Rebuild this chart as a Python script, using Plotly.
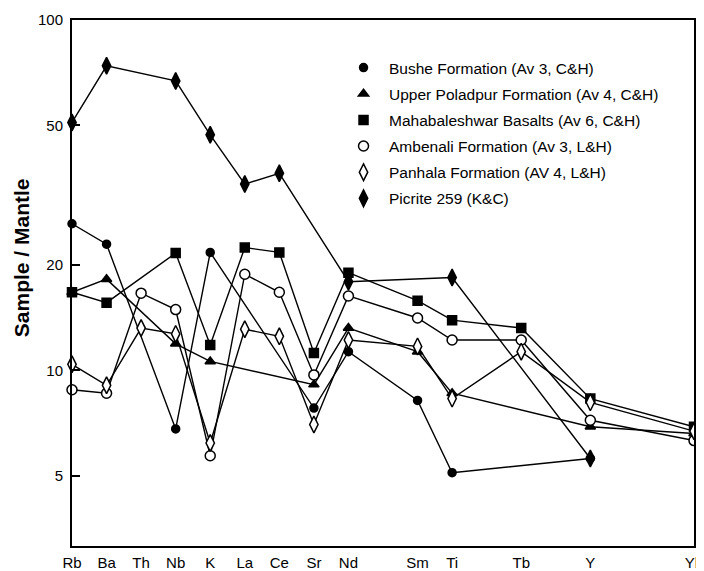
import math
import plotly.graph_objects as go

# ---------------- data ----------------
elements = ["Rb", "Ba", "Th", "Nb", "K", "La", "Ce", "Sr", "Nd", "Sm", "Ti", "Tb", "Y", "Yb"]
element_pos = [0, 1, 2, 3, 4, 5, 6, 7, 8, 10, 11, 13, 15, 18]

bushe = [26.2, 22.9, None, 6.8, 21.7, None, None, 7.8, 11.3, 8.2, 5.1, None, 5.6, None]
upper_poladpur = [16.7, 18.2, None, 11.9, 10.6, None, None, 9.1, 13.2, 11.3, 8.6, None, 6.9, 6.6]
mahabaleshwar = [16.7, 15.6, None, 21.6, 11.8, 22.4, 21.7, 11.2, 19.0, 15.8, 13.9, 13.2, 8.3, 6.9]
ambenali = [8.8, 8.6, 16.6, 14.9, 5.7, 18.8, 16.7, 9.7, 16.3, 14.1, 12.2, 12.2, 7.2, 6.3]
panhala = [10.4, 9.06, 13.2, 12.7, 6.2, 13.1, 12.5, 7.0, 12.2, 11.7, 8.3, 11.3, 8.1, 6.7]
picrite = [51, 74, None, 67, 47, 34, 36.5, None, 17.9, None, 18.4, None, 5.6, None]

y_ticks = [5, 10, 20, 50, 100]

series = [
    ("Bushe Formation (Av 3, C&H)", bushe, "circle", "black", 8),
    ("Upper Poladpur Formation (Av 4, C&H)", upper_poladpur, "triangle-up", "black", 9),
    ("Mahabaleshwar Basalts (Av 6, C&H)", mahabaleshwar, "square", "black", 9),
    ("Ambenali Formation (Av 3, L&H)", ambenali, "circle", "white", 10),
    ("Panhala Formation (AV 4, L&H)", panhala, "diamond-tall", "white", 12),
    ("Picrite 259 (K&C)", picrite, "diamond-tall", "black", 12),
]

FONT = "Liberation Sans, Arial, sans-serif"

fig = go.Figure()
# lines first
for name, vals, sym, fill, size in series:
    xs = [p for p, v in zip(element_pos, vals) if v is not None]
    ys = [v for v in vals if v is not None]
    fig.add_trace(go.Scatter(x=xs, y=ys, mode="lines", showlegend=False,
                             line=dict(color="black", width=1.4),
                             cliponaxis=False, hoverinfo="skip"))
# markers on top (also used for legend)
for i, (name, vals, sym, fill, size) in enumerate(series):
    xs = [p for p, v in zip(element_pos, vals) if v is not None]
    ys = [v for v in vals if v is not None]
    fig.add_trace(go.Scatter(x=xs, y=ys, mode="markers", name=name,
                             legendgroup=f"g{i}",
                             marker=dict(symbol=sym, size=size, color=fill,
                                         line=dict(color="black", width=1.5)),
                             cliponaxis=False))

# the page body has an 8px default margin; margins are set so the plot area
# lands where the reference has it inside the 704x571 window
fig.update_layout(
    width=704, height=563,
    margin=dict(l=64, r=18, t=12, b=25),
    paper_bgcolor="white", plot_bgcolor="white",
    font=dict(family=FONT, color="black", size=15),
    showlegend=True,
    legend=dict(x=0.4277, y=0.941, xanchor="left", yanchor="top",
                bgcolor="rgba(0,0,0,0)", borderwidth=0,
                font=dict(family=FONT, size=15.5, color="black"),
                tracegroupgap=3, itemwidth=41),
    xaxis=dict(range=[element_pos[0], element_pos[-1]], automargin=False,
               tickmode="array", tickvals=element_pos, ticktext=elements,
               showgrid=False, zeroline=False, ticks="",
               showline=True, mirror=True, linecolor="black", linewidth=2,
               tickfont=dict(size=15), ticklabelstandoff=2),
    yaxis=dict(type="log", range=[math.log10(3.15), 2], automargin=False,
               tickmode="array", tickvals=y_ticks, ticktext=[str(t) for t in y_ticks],
               showgrid=False, zeroline=False, ticks="inside", ticklen=8,
               tickwidth=2, tickcolor="black",
               showline=True, mirror=True, linecolor="black", linewidth=2,
               tickfont=dict(size=15), ticklabelstandoff=4),
    annotations=[dict(text="<b>Sample / Mantle</b>", textangle=-90,
                      xref="paper", yref="paper", x=-0.082, y=0.549,
                      xanchor="center", yanchor="middle", showarrow=False,
                      font=dict(family=FONT, size=21, color="black"))],
)

fig.write_html("out.html")
